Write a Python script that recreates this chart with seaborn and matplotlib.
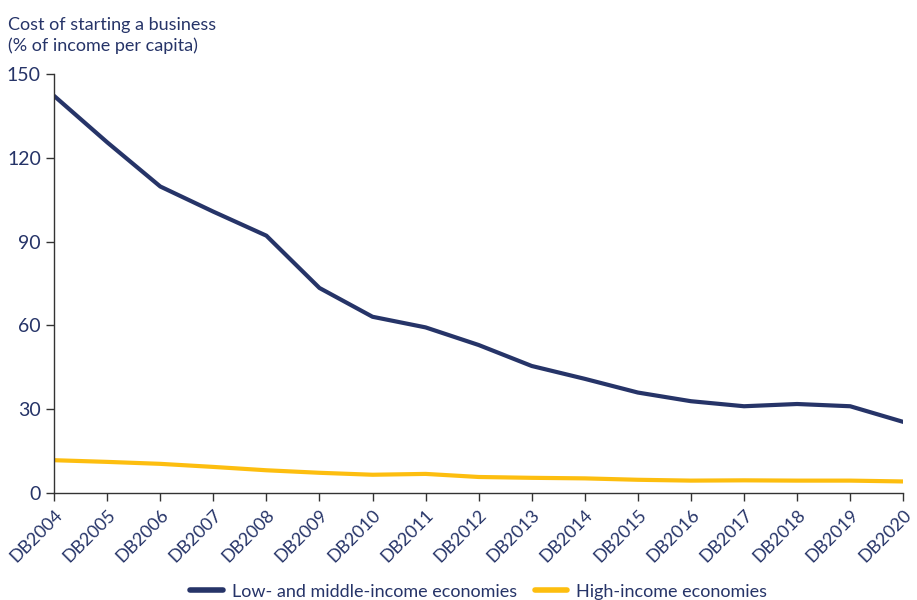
import matplotlib.pyplot as plt
import seaborn as sns
import pandas as pd

# Cost of starting a business, % of income per capita
years = ['DB2004', 'DB2005', 'DB2006', 'DB2007', 'DB2008', 'DB2009', 'DB2010', 'DB2011',
         'DB2012', 'DB2013', 'DB2014', 'DB2015', 'DB2016', 'DB2017', 'DB2018', 'DB2019', 'DB2020']
low_middle = [142.1, 125.5, 109.7, 100.7, 92.1, 73.4, 63.1, 59.3,
              53.0, 45.5, 40.9, 36.0, 32.9, 31.1, 31.9, 31.1, 25.5]
high_income = [11.8, 11.2, 10.5, 9.4, 8.2, 7.3, 6.6, 6.9,
               5.8, 5.5, 5.3, 4.8, 4.5, 4.6, 4.5, 4.5, 4.2]
series_names = ['Low- and middle-income economies', 'High-income economies']

navy = '#263468'
gold = '#FDBE0F'

df = pd.DataFrame({
    'idx': list(range(len(years))) * 2,
    'value': low_middle + high_income,
    'group': [series_names[0]] * len(years) + [series_names[1]] * len(years),
})

sns.set_style('white')
plt.rcParams['font.family'] = ['Lato', 'DejaVu Sans']

fig = plt.figure(figsize=(9.17, 6.0), dpi=100)
ax = fig.add_axes([0.059, 0.178, 0.926, 0.699])

sns.lineplot(data=df, x='idx', y='value', hue='group', hue_order=series_names,
             palette=[navy, gold], linewidth=3, ax=ax)

ax.set_xlim(0, len(years) - 1)
ax.set_ylim(0, 150)
ax.set_yticks([0, 30, 60, 90, 120, 150])
ax.set_xticks(range(len(years)))
ax.set_xticklabels(years, rotation=45, ha='right', rotation_mode='anchor')
ax.tick_params(axis='both', direction='out', length=6, width=1, color='#333333',
               labelcolor=navy, labelsize=14, bottom=True, left=True)
ax.tick_params(axis='x', labelsize=13, pad=4)
ax.set_xlabel('')
ax.set_ylabel('')

for s in ['top', 'right']:
    ax.spines[s].set_visible(False)
for s in ['left', 'bottom']:
    ax.spines[s].set_color('#333333')
    ax.spines[s].set_linewidth(1)

fig.text(0.009, 0.972, 'Cost of starting a business\n(% of income per capita)',
         ha='left', va='top', color=navy, fontsize=13, linespacing=1.35)

leg = ax.legend(loc='center', bbox_to_anchor=(0.5, -0.235), ncol=2, frameon=False,
                fontsize=13, handlelength=1.8, columnspacing=1.0, handletextpad=0.5)
for t in leg.get_texts():
    t.set_color(navy)
for h in leg.get_lines():
    h.set_linewidth(4)

fig.savefig('out.png', dpi=100)
